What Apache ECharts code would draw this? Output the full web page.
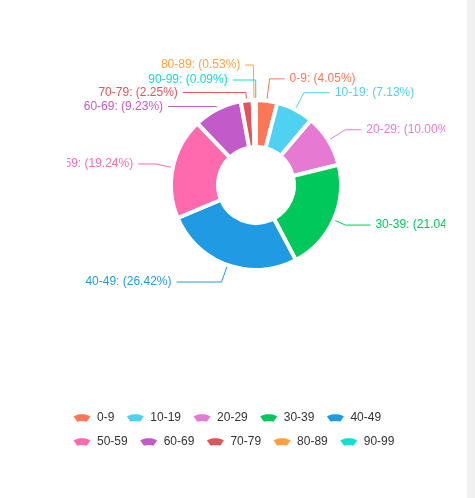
<!DOCTYPE html>
<html>
<head>
<meta charset="utf-8">
<script src="https://cdn.jsdelivr.net/npm/echarts@6/dist/echarts.min.js"></script>
<style>
html,body{margin:0;padding:0;background:#fff;width:475px;height:498px;overflow:hidden;}
#clip{position:absolute;left:67px;top:0;width:378px;height:498px;overflow:hidden;}
#main{position:absolute;left:-100px;top:0;width:600px;height:498px;}
#bar{position:absolute;right:0;top:0;width:8px;height:498px;background:#f0f0f0;}
</style>
</head>
<body>
<div id="clip"><div id="main"></div></div>
<div id="bar"></div>
<script>
// 年龄段分布
var ageGroups = ['0-9','10-19','20-29','30-39','40-49','50-59','60-69','70-79','80-89','90-99'];
var agePercent = [4.05, 7.13, 10.00, 21.04, 26.42, 19.24, 9.23, 2.25, 0.53, 0.09];
var ageColors = ['#fb7758','#4fd2f2','#e67ad2','#00c85a','#1e9be3','#ff6aae','#c25bc9','#e0555a','#ffa040','#10e0cc'];
// 引导线两段长度
var lineLen  = [22, 19, 20, 13, 18, 18, 3, 8, 35, 20];
var lineLen2 = [15, 26, 16, 25, 45, 17, 48, 63, 8, 23];

var chart = echarts.init(document.getElementById('main'));
var pieData = [];
for(var a=0;a<ageGroups.length;a++){
    pieData.push({
        name:ageGroups[a],
        value:agePercent[a],
        label:{color:ageColors[a]},
        labelLine:{length:lineLen[a], length2:lineLen2[a]}
    });
}
var fanIcon = 'path://M0,3 L3,1.5 L6,0.5 L10,0 L14,0.5 L17,1.5 L20,3 L15,10 L12.5,9.2 L10,9 L7.5,9.2 L5,10 Z';
var option = {
    color: ageColors,
    animation: false,
    textStyle: {fontFamily: 'Liberation Sans, Arial, sans-serif'},
    legend: {
        left: 104,
        top: 411,
        padding: 0,
        width: 330,
        itemWidth: 20,
        itemHeight: 10,
        itemGap: 10,
        icon: fanIcon,
        textStyle: {fontSize: 12, lineHeight: 14, color: '#333'},
        data: ageGroups
    },
    series: [
        {
            name: '年龄段',
            type: 'pie',
            center: [289, 185],
            radius: [38, 85],
            startAngle: 90,
            avoidLabelOverlap: false,
            itemStyle: {borderColor: '#fff', borderWidth: 4},
            label: {
                show: true,
                fontSize: 12,
                formatter: function(p){ return p.name + ': (' + p.value.toFixed(2) + '%)'; }
            },
            labelLine: {lineStyle: {width: 1}},
            data: pieData
        }
    ]
};
chart.setOption(option);
</script>
</body>
</html>
